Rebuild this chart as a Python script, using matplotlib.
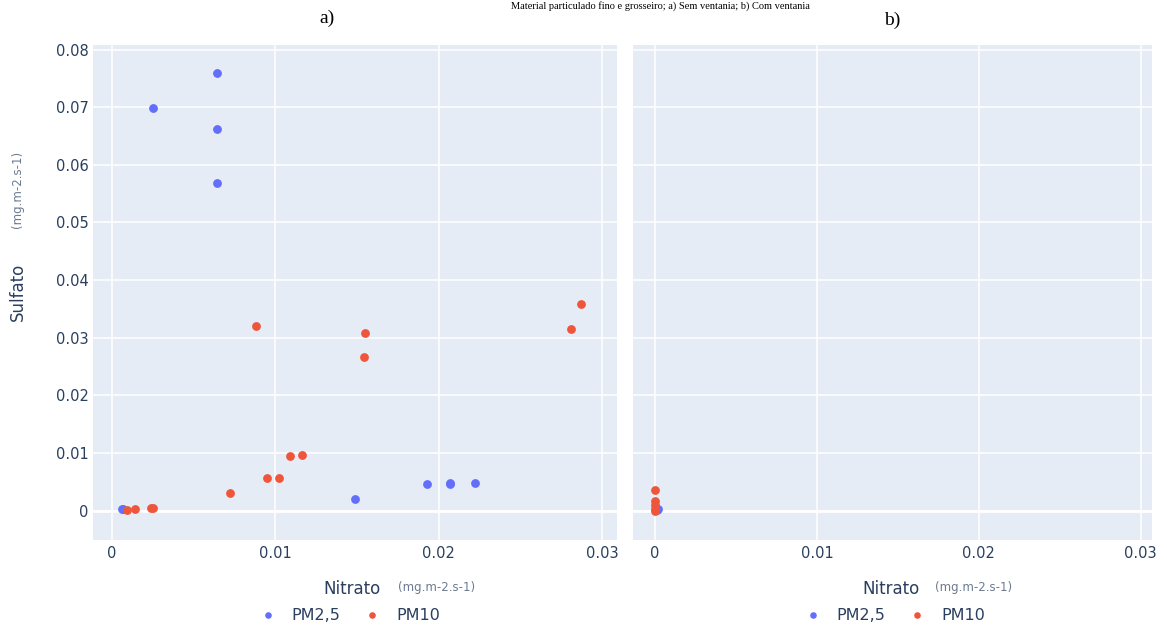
import matplotlib
matplotlib.use('Agg')
import matplotlib.pyplot as plt

# a) panel
pm25_x_a = [0.0025, 0.0064, 0.0064, 0.0064, 0.0006, 0.0007, 0.0149, 0.0193, 0.0207, 0.0207, 0.0222]
pm25_y_a = [0.0698, 0.0759, 0.0662, 0.0569, 0.0002, 0.0002, 0.0021, 0.0046, 0.0047, 0.0048, 0.0048]
pm10_x_a = [0.0009, 0.0014, 0.0024, 0.0025, 0.0072, 0.0088, 0.0095, 0.0102, 0.0109, 0.0116,
            0.0154, 0.0155, 0.0281, 0.0287]
pm10_y_a = [0.0001, 0.0003, 0.0005, 0.0005, 0.0031, 0.0320, 0.0056, 0.0056, 0.0095, 0.0097,
            0.0267, 0.0309, 0.0316, 0.0359]

# b) panel
pm25_x_b = [0.0001, 0.0002]
pm25_y_b = [0.0001, 0.0002]
pm10_x_b = [0.0, 0.0, 0.0, 0.0, 0.0]
pm10_y_b = [0.0035, 0.0016, 0.0010, 0.0003, 0.0]

x_ticks = [0, 0.01, 0.02, 0.03]
x_ticklabels = ['0', '0.01', '0.02', '0.03']
y_ticks = [0, 0.01, 0.02, 0.03, 0.04, 0.05, 0.06, 0.07, 0.08]
y_ticklabels = ['0', '0.01', '0.02', '0.03', '0.04', '0.05', '0.06', '0.07', '0.08']

BLUE = '#636efa'
RED = '#EF553B'
BG = '#E5ECF6'
TXT = '#2a3f5f'
UNIT = '#6b7a90'
W, H = 1167, 625

plt.rcParams['font.family'] = ['DejaVu Sans']

fig = plt.figure(figsize=(W / 100, H / 100), dpi=100)


def px_axes(x0, x1, y0, y1):
    return fig.add_axes([x0 / W, 1 - y1 / H, (x1 - x0) / W, (y1 - y0) / H])


def style(ax, xlim, show_y):
    ax.set_facecolor(BG)
    for s in ax.spines.values():
        s.set_visible(False)
    ax.set_xlim(*xlim)
    ax.set_ylim(-0.0051, 0.0808)
    ax.set_xticks(x_ticks)
    ax.set_xticklabels(x_ticklabels)
    ax.set_yticks(y_ticks)
    ax.set_yticklabels(y_ticklabels if show_y else [])
    ax.grid(True, color='white', linewidth=1.1)
    ax.axhline(0, color='white', linewidth=2, zorder=1)
    ax.set_axisbelow(True)
    ax.tick_params(length=0, labelsize=10.5, labelcolor=TXT)
    ax.tick_params(axis='y', pad=3)
    ax.tick_params(axis='x', pad=4)


axes_a = px_axes(93, 617, 45, 540)
axes_b = px_axes(633, 1152, 45, 540)

style(axes_a, (-0.00116, 0.0309), True)
style(axes_b, (-0.00136, 0.0307), False)

for ax, bx, by, rx, ry in [(axes_a, pm25_x_a, pm25_y_a, pm10_x_a, pm10_y_a),
                           (axes_b, pm25_x_b, pm25_y_b, pm10_x_b, pm10_y_b)]:
    ax.scatter(bx, by, s=40, color=BLUE, linewidths=0, zorder=3, label='PM2,5')
    ax.scatter(rx, ry, s=40, color=RED, linewidths=0, zorder=3, label='PM10')

# axis titles
fig.text(18 / W, 1 - 292 / H, 'Sulfato', rotation=90, ha='center', va='center',
         fontsize=12, color=TXT)
fig.text(18 / W, 1 - 189 / H, '(mg.m-2.s-1)', rotation=90, ha='center', va='center',
         fontsize=8.5, color=UNIT)
for x_title, x_unit in [(323, 398), (862, 935)]:
    fig.text(x_title / W, 1 - 589 / H, 'Nitrato', ha='left', va='center',
             fontsize=12, color=TXT)
    fig.text(x_unit / W, 1 - 587 / H, '(mg.m-2.s-1)', ha='left', va='center',
             fontsize=8.5, color=UNIT)

# legends
for ax, cx in [(axes_a, 350), (axes_b, 895)]:
    h, l = ax.get_legend_handles_labels()
    fig.legend(h, l, loc='center', bbox_to_anchor=(cx / W, 1 - 615 / H), ncol=2,
               frameon=False, fontsize=11.5, labelcolor=TXT, handletextpad=1.0,
               handlelength=1.0, columnspacing=1.5, markerscale=0.75)

# caption line at the top of the image
fig.text(660 / W, 1 - 1 / H, 'Material particulado fino e grosseiro; a) Sem ventania; b) Com ventania',
         ha='center', va='top', family='Liberation Serif', fontsize=7.5, color='black')
fig.text(327 / W, 1 - 18 / H, 'a)', ha='center', va='center',
         family='Liberation Serif', fontsize=14, color='black')
fig.text(892 / W, 1 - 20 / H, 'b)', ha='center', va='center',
         family='Liberation Serif', fontsize=14, color='black')

fig.savefig('out.png', dpi=100)
